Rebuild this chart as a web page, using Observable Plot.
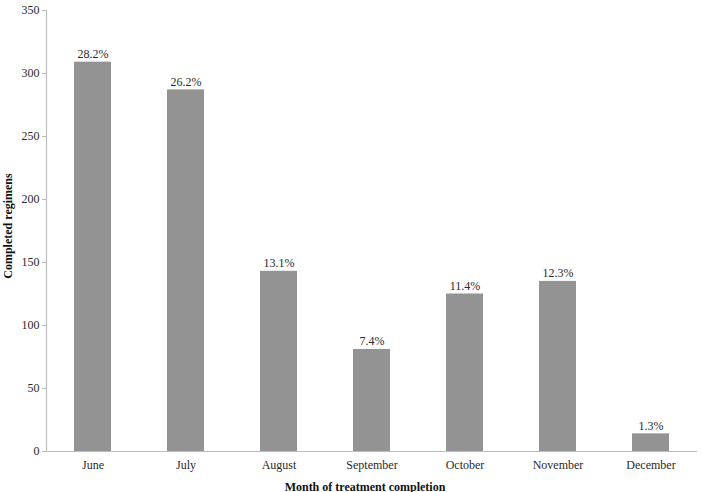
<!DOCTYPE html>
<html>
<head>
<meta charset="utf-8">
<script src="https://cdn.jsdelivr.net/npm/d3@7"></script>
<script src="https://cdn.jsdelivr.net/npm/@observablehq/plot@0.6"></script>
<style>
  html, body { margin: 0; padding: 0; background: #fff; }
  #chart { width: 702px; height: 492px; }
  #chart svg, #chart svg text { font-family: "Liberation Serif", "Times New Roman", serif !important; }
</style>
</head>
<body>
<div id="chart"></div>
<script>
const months = ["June", "July", "August", "September", "October", "November", "December"];
const counts = [309, 287, 143, 81, 125, 135, 14];
const percentLabels = ["28.2%", "26.2%", "13.1%", "7.4%", "11.4%", "12.3%", "1.3%"];
const yTicks = [0, 50, 100, 150, 200, 250, 300, 350];

const data = months.map((m, i) => ({month: m, count: counts[i], label: percentLabels[i]}));

const chart = Plot.plot({
  width: 702,
  height: 492,
  marginLeft: 46,
  marginRight: 5,
  marginTop: 10,
  marginBottom: 41,
  style: {fontSize: "12px", color: "#333", background: "#fff"},
  x: {domain: months, paddingInner: 0.6, paddingOuter: 0.3, label: null},
  y: {domain: [0, 350], label: null},
  marks: [
    Plot.barY(data, {x: "month", y: "count", fill: "#939393"}),
    Plot.ruleY([0], {stroke: "#bdbdbd", strokeWidth: 1.2}),
    Plot.frame({anchor: "left", stroke: "#bdbdbd", strokeWidth: 1.2}),
    Plot.axisY(yTicks, {ticks: yTicks, tickSize: 4, tickPadding: 3, stroke: "#bdbdbd", fill: "#2a2a2a", fontSize: 12, label: null}),
    Plot.axisX({tickSize: 0, tickPadding: 9, fill: "#2a2a2a", fontSize: 12, label: null}),
    Plot.text(data, {x: "month", y: "count", text: "label", lineAnchor: "bottom", dy: -4, fill: "#2a2a2a", fontSize: 12}),
    Plot.text(["Month of treatment completion"], {frameAnchor: "bottom", dx: -7, dy: 39, fontWeight: "bold", fontSize: 12, fill: "#111"}),
    Plot.text(["Completed regimens"], {frameAnchor: "left", textAnchor: "middle", dx: -38, dy: -5, rotate: -90, fontWeight: "bold", fontSize: 12, fill: "#111"})
  ]
});
document.getElementById("chart").appendChild(chart);
</script>
</body>
</html>
